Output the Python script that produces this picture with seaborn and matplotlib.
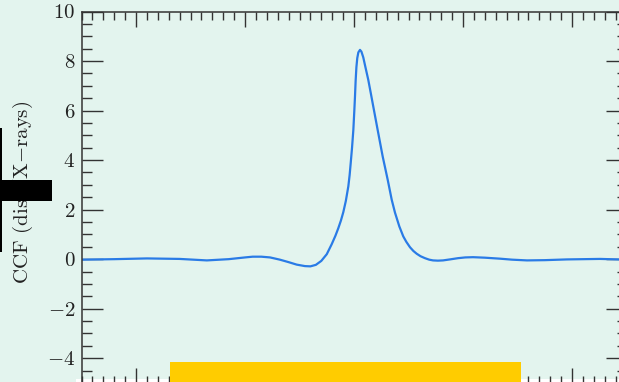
import numpy as np
import pandas as pd
import matplotlib
matplotlib.use("Agg")
import matplotlib.pyplot as plt
from matplotlib.patches import Rectangle
from matplotlib.ticker import MultipleLocator
import seaborn as sns

# ---- data ----
lag = [-2.5, -2.2, -1.9, -1.6, -1.35, -1.15, -1.0, -0.93, -0.85, -0.77,
       -0.68, -0.6, -0.526, -0.45, -0.40, -0.35, -0.30, -0.25, -0.205,
       -0.17, -0.144, -0.12, -0.098, -0.075, -0.052, -0.04, -0.030, -0.018,
       -0.006, 0.003, 0.009, 0.015, 0.022, 0.030, 0.040, 0.055, 0.068,
       0.085, 0.105, 0.131, 0.155, 0.177, 0.217, 0.263, 0.309, 0.346,
       0.376, 0.416, 0.452, 0.48, 0.514, 0.545, 0.575, 0.61, 0.651, 0.69,
       0.725, 0.77, 0.817, 0.88, 0.954, 1.02, 1.092, 1.2, 1.339, 1.45,
       1.587, 1.75, 1.954, 2.257, 2.5]
ccf = [-0.02, 0.0, 0.03, 0.01, -0.05, 0.0, 0.07, 0.10, 0.10, 0.07,
       -0.02, -0.12, -0.22, -0.28, -0.29, -0.23, -0.07, 0.20, 0.60,
       0.95, 1.25, 1.56, 1.90, 2.35, 2.94, 3.40, 3.89, 4.50,
       5.22, 6.00, 6.56, 7.20, 7.75, 8.12, 8.35, 8.45, 8.38,
       8.15, 7.75, 7.24, 6.68, 6.16, 5.22, 4.15, 3.21, 2.40,
       1.88, 1.32, 0.92, 0.70, 0.48, 0.33, 0.22, 0.12, 0.04, -0.02,
       -0.05, -0.06, -0.05, -0.01, 0.04, 0.07, 0.08, 0.06, 0.02, -0.02,
       -0.05, -0.04, -0.01, 0.01, -0.02]
y_ticks = [-4, -2, 0, 2, 4, 6, 8, 10]
y_label = r"CCF (disk/X$-$rays)"

df = pd.DataFrame({"lag": lag, "ccf": ccf})

sns.set_theme(style="ticks")
bg = "#e3f4ee"
plt.rcParams.update({
    "font.family": ["cmr10", "DejaVu Serif"],
    "mathtext.fontset": "cm",
    "axes.formatter.use_mathtext": True,
    "axes.unicode_minus": True,
    "lines.solid_joinstyle": "round",
})

W, H = 619, 382
fig = plt.figure(figsize=(W / 100, H / 100), dpi=100, facecolor=bg)

def px_rect(x0, y0, x1, y1, **kw):
    # rectangle in pixel coordinates (origin top-left) -> figure fraction
    return Rectangle((x0 / W, 1 - y1 / H), (x1 - x0) / W, (y1 - y0) / H,
                     transform=fig.transFigure, **kw)

# white strip at the bottom (behind the axes)
fig.patches.append(px_rect(76, 379, W, H + 2, facecolor="white",
                           edgecolor="none", zorder=-5))

ax = fig.add_axes([81.5 / W, (H - 383) / H, 545 / W, (383 - 11.5) / H])
ax.set_facecolor("none")

sns.lineplot(data=df, x="lag", y="ccf", ax=ax, color="#2a7be6",
             linewidth=1.6, sort=False)

ax.set_xlim(-2.5, 2.5)
ax.set_ylim(-5, 10)
ax.xaxis.set_major_locator(MultipleLocator(1))
ax.xaxis.set_minor_locator(MultipleLocator(0.1))
ax.set_yticks(y_ticks)
ax.yaxis.set_minor_locator(MultipleLocator(0.5))

tc = "#333333"
ax.tick_params(axis="both", which="both", direction="in", colors=tc,
               top=True, right=True, width=1.0)
ax.tick_params(axis="x", which="major", length=10.5)
ax.tick_params(axis="x", which="minor", length=5.4)
ax.tick_params(axis="y", which="major", length=15)
ax.tick_params(axis="y", which="minor", length=7.5)
ax.tick_params(axis="y", labelsize=15, labelcolor="#222222", pad=4.5)
ax.tick_params(axis="x", labelbottom=False)
for s in ax.spines.values():
    s.set_color(tc)
    s.set_linewidth(1.1)

ax.set_xlabel("")
ax.set_ylabel("")
fig.text(23 / W, 1 - 192 / H, y_label, rotation=90, ha="center",
         va="center", fontsize=15, color="#222222")

# overlay boxes
fig.patches.append(px_rect(0, 180, 52, 201, facecolor="black",
                           edgecolor="none", zorder=20))
fig.patches.append(px_rect(0, 128, 1.6, 252, facecolor="black",
                           edgecolor="none", zorder=20))
fig.patches.append(px_rect(170, 362, 521, H + 2, facecolor="#ffcc00",
                           edgecolor="none", zorder=20))

fig.savefig("out.png", dpi=100, facecolor=bg)
